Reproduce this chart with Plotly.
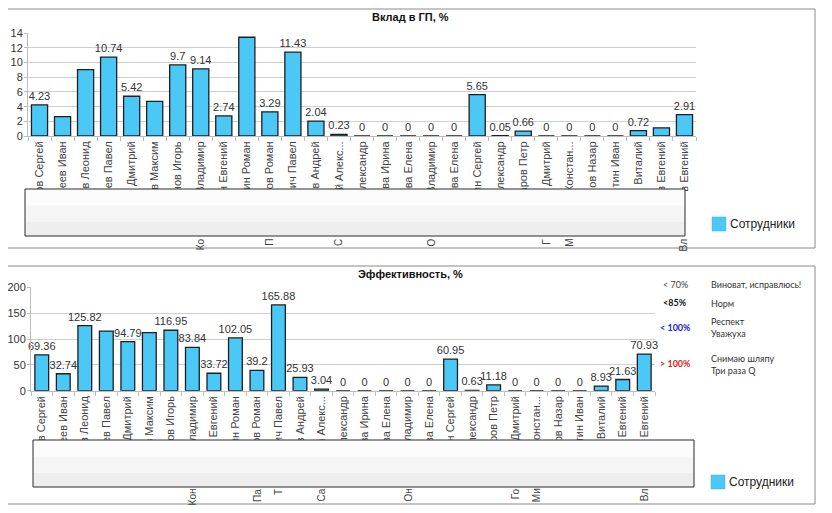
import plotly.graph_objects as go

# page body has an 8px margin; the figure is sized so it fits the 832x513 window exactly
PAGE_W, PAGE_H, OFF = 832, 513, 8
W, H = PAGE_W - 2 * OFF, PAGE_H - 2 * OFF

names = ["ов Сергей", "еев Иван", "ов Леонид", "оев Павел", "в Дмитрий", "в Максим",
         "нов Игорь", "Владимир", "н Евгений", "ин Роман", "ков Роман", "вич Павел",
         "ов Андрей", "й Алекс...", "лександр", "ва Ирина", "ова Елена", "Владимир",
         "ева Елена", "ин Сергей", "лександр", "аров Петр", "в Дмитрий", "Констан...",
         "ов Назар", "тин Иван", "Виталий", "в Евгений", "в Евгений"]

contrib = [4.23, 2.65, 9.05, 10.74, 5.42, 4.73, 9.7, 9.14, 2.74, 13.46, 3.29, 11.43,
           2.04, 0.23, 0, 0, 0, 0, 0, 5.65, 0.05, 0.66, 0, 0, 0, 0, 0.72, 1.12, 2.91]
contrib_hidden = [1, 2, 5, 9, 27]

effic = [69.36, 32.74, 125.82, 115.4, 94.79, 112.3, 116.95, 83.84, 33.72, 102.05, 39.2,
         165.88, 25.93, 3.04, 0, 0, 0, 0, 0, 60.95, 0.63, 11.18, 0, 0, 0, 0, 8.93, 21.63, 70.93]
effic_hidden = [3, 5]

# name beginnings visible below the covering boxes
top_prefix = {7: "Ко", 10: "П", 13: "С", 17: "О", 22: "Г", 23: "М", 28: "Вл"}
bot_prefix = {7: "Кон", 10: "Па", 11: "Т", 13: "Са", 17: "Он", 22: "Го", 23: "Ми", 28: "Вл"}

series_name = "Сотрудники"
title_top = "Вклад в ГП, %"
title_bot = "Эффективность, %"

scale_rows = [
    ("< 70%", "#444444", False, ["Виноват, исправлюсь!"]),
    ("<85%", "#111111", True, ["Норм"]),
    ("< 100%", "#2222cc", True, ["Респект", "Уважуха"]),
    ("> 100%", "#dd2222", True, ["Снимаю шляпу", "Три раза Q"]),
]

BAR = "#4CC8F7"
EDGE = "#1e1e1e"
FONT = "Arial, Liberation Sans, sans-serif"


def px(x):
    return (x - OFF) / W


def py(y):
    return 1 - (y - OFF) / H


def fmt(v):
    return f"{v:g}"


idx = list(range(len(names)))
top_text = ["" if i in contrib_hidden else fmt(v) for i, v in enumerate(contrib)]
bot_text = ["" if i in effic_hidden else fmt(v) for i, v in enumerate(effic)]

fig = go.Figure()
fig.add_trace(go.Bar(
    x=idx, y=contrib, xaxis="x", yaxis="y", name=series_name, showlegend=False,
    marker=dict(color=BAR, line=dict(color=EDGE, width=1.3)), width=0.7,
    text=top_text, textposition="outside", cliponaxis=False, constraintext="none",
    textfont=dict(family=FONT, size=11, color="#333"), hoverinfo="y"))
fig.add_trace(go.Bar(
    x=idx, y=effic, xaxis="x2", yaxis="y2", name=series_name, showlegend=False,
    marker=dict(color=BAR, line=dict(color=EDGE, width=1.3)), width=0.64,
    text=bot_text, textposition="outside", cliponaxis=False, constraintext="none",
    textfont=dict(family=FONT, size=11, color="#333"), hoverinfo="y"))

xcommon = dict(range=[-0.5, len(names) - 0.5], tickmode="array", tickvals=idx, ticktext=names,
               tickangle=-90, tickfont=dict(family=FONT, size=11, color="#444"),
               ticks="", showline=True, linecolor="#bdbdbd", showgrid=False, zeroline=False,
               minor=dict(tick0=0.5, dtick=1, ticks="outside", ticklen=4, tickcolor="#bdbdbd"),
               automargin=False, fixedrange=True)
ycommon = dict(showline=True, linecolor="#bdbdbd", gridcolor="#cfcfcf", zeroline=False,
               ticks="outside", ticklen=3, tickcolor="#bdbdbd", automargin=False,
               ticklabelstandoff=-1,
               tickfont=dict(family=FONT, size=11, color="#333"), fixedrange=True)

fig.update_layout(
    width=W, height=H, margin=dict(l=0, r=0, t=0, b=0, pad=0, autoexpand=False),
    paper_bgcolor="white", plot_bgcolor="white", bargap=0.3,
    font=dict(family=FONT),
    xaxis=dict(domain=[px(28), px(696)], anchor="y", **xcommon),
    yaxis=dict(domain=[py(136), py(33.3)], anchor="x", range=[0, 14], dtick=2, **ycommon),
    xaxis2=dict(domain=[px(31), px(655)], anchor="y2", **xcommon),
    yaxis2=dict(domain=[py(390.7), py(287.3)], anchor="x2", range=[0, 200], dtick=50, **ycommon),
)

shapes = []
# panel borders
for (y0, y1) in [(9, 248), (266, 504)]:
    shapes.append(dict(type="rect", xref="paper", yref="paper", x0=px(5), x1=px(815),
                       y0=py(y1), y1=py(y0), line=dict(color="#8a8a8a", width=1),
                       fillcolor="rgba(0,0,0,0)", layer="below"))
# covering boxes
for (x0, x1, y0, y1) in [(25, 685, 189, 236), (33, 694, 440, 487)]:
    hgt = y1 - y0
    bands = [(0, 0.35, "#fcfcfc"), (0.35, 0.7, "#f5f5f5"), (0.7, 1.0, "#eeeeee")]
    for a, b, c in bands:
        shapes.append(dict(type="rect", xref="paper", yref="paper", x0=px(x0), x1=px(x1),
                           y0=py(y0 + hgt * b), y1=py(y0 + hgt * a), line=dict(width=0),
                           fillcolor=c, layer="above"))
    shapes.append(dict(type="rect", xref="paper", yref="paper", x0=px(x0), x1=px(x1),
                       y0=py(y1), y1=py(y0), line=dict(color="#2a2a2a", width=1),
                       fillcolor="rgba(0,0,0,0)", layer="above"))
# legend swatches
for (x0, y0) in [(712, 217), (711, 475)]:
    shapes.append(dict(type="rect", xref="paper", yref="paper", x0=px(x0), x1=px(x0 + 14),
                       y0=py(y0 + 14), y1=py(y0), line=dict(color="#3fb0e0", width=0.5),
                       fillcolor=BAR, layer="above"))

ann = []
ann.append(dict(text=f"<b>{title_top}</b>", xref="paper", yref="paper", x=px(410), y=py(17),
                xanchor="center", yanchor="middle",
                showarrow=False, font=dict(family=FONT, size=11, color="#111")))
ann.append(dict(text=f"<b>{title_bot}</b>", xref="paper", yref="paper", x=px(410), y=py(274),
                xanchor="center", yanchor="middle",
                showarrow=False, font=dict(family=FONT, size=11, color="#111")))
for (x0, yc) in [(728, 224), (727, 482)]:
    ann.append(dict(text=series_name, xref="paper", yref="paper", x=px(x0), y=py(yc),
                    xanchor="left", yanchor="middle", showarrow=False,
                    font=dict(family=FONT, size=12, color="#222")))
for i, t in top_prefix.items():
    ann.append(dict(text=t, xref="x", yref="paper", x=i, y=py(236.5), yanchor="top",
                    xanchor="center", textangle=-90, showarrow=False,
                    font=dict(family=FONT, size=10, color="#444")))
for i, t in bot_prefix.items():
    ann.append(dict(text=t, xref="x2", yref="paper", x=i, y=py(486.5), yanchor="top",
                    xanchor="center", textangle=-90, showarrow=False,
                    font=dict(family=FONT, size=10, color="#444")))

# rating scale notes
SFONT = "Lato, Open Sans, sans-serif"
row_y = [284, 302.5, 327, 363]
desc_y = [[284], [303], [321, 333.5], [358, 370.5]]
for (lab, col, bold, descs), yl, yds in zip(scale_rows, row_y, desc_y):
    ann.append(dict(text=f"<b>{lab}</b>" if bold else lab, xref="paper", yref="paper",
                    x=px(675), y=py(yl), xanchor="center", yanchor="middle", showarrow=False,
                    font=dict(family=SFONT, size=9, color=col)))
    for d, yd in zip(descs, yds):
        ann.append(dict(text=d, xref="paper", yref="paper", x=px(709), y=py(yd),
                        xanchor="left", yanchor="middle", showarrow=False,
                        font=dict(family=SFONT, size=9, color="#333")))

fig.update_layout(shapes=shapes, annotations=ann)
fig.write_html("out.html")
